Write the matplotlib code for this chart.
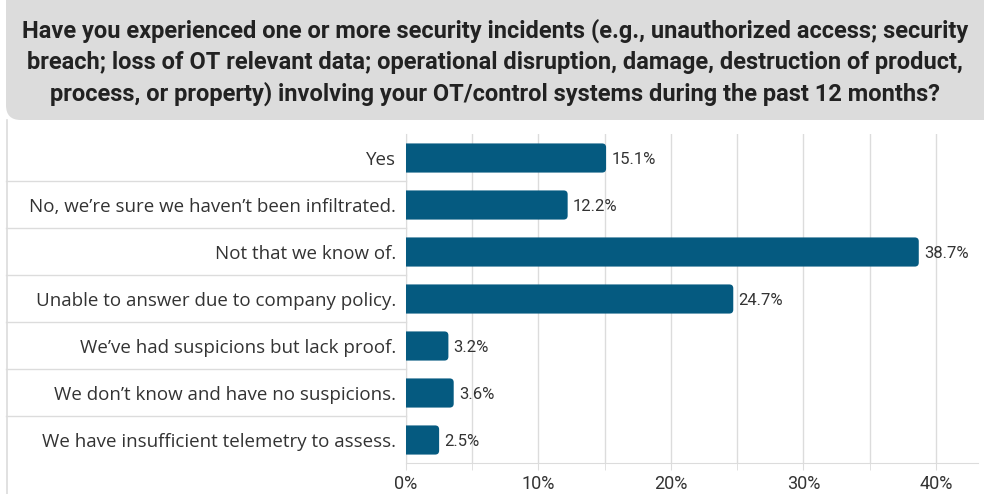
import matplotlib.pyplot as plt
from matplotlib.patches import FancyBboxPatch
from matplotlib.lines import Line2D
from matplotlib.transforms import blended_transform_factory
import numpy as np

title = ("Have you experienced one or more security incidents (e.g., unauthorized access; security\n"
         "breach; loss of OT relevant data; operational disruption, damage, destruction of product,\n"
         "process, or property) involving your OT/control systems during the past 12 months?")
categories = ["Yes",
              "No, we\u2019re sure we haven\u2019t been infiltrated.",
              "Not that we know of.",
              "Unable to answer due to company policy.",
              "We\u2019ve had suspicions but lack proof.",
              "We don\u2019t know and have no suspicions.",
              "We have insufficient telemetry to assess."]
values = [15.1, 12.2, 38.7, 24.7, 3.2, 3.6, 2.5]
xticks = [0, 10, 20, 30, 40]
xtick_labels = ["0%", "10%", "20%", "30%", "40%"]

bar_color = "#055a80"
text_color = "#333333"
grid_color = "#dcdcdc"
narrow = ["Roboto", "DejaVu Sans"]
label_font = ["Open Sans", "Noto Sans", "DejaVu Sans"]

W, H = 984, 494
fig = plt.figure(figsize=(W / 100, H / 100), dpi=100)
fig.patch.set_facecolor("white")

# title box
box = FancyBboxPatch((6 / W, (H - 120) / H), 1.02 - 6 / W, 140 / H,
                     boxstyle="round,pad=0,rounding_size=0.015",
                     transform=fig.transFigure, facecolor="#dcdcdc",
                     edgecolor="none", mutation_aspect=W / H, zorder=0)
fig.patches.append(box)
fig.text(495 / W, 1 - 62.5 / H, title, ha="center", va="center",
         fontsize=17, fontweight="bold", color="#222222",
         family=narrow, linespacing=1.42)

# left border line
fig.add_artist(Line2D([6.5 / W, 6.5 / W], [0, (H - 120) / H],
                      transform=fig.transFigure, color=grid_color, lw=1.2))

ax = fig.add_axes([406 / W, 1 - 463.5 / H, (978 - 406) / W, (463.5 - 134.5) / H])
n = len(categories)
y = np.arange(n)
ax.set_ylim(n - 0.5, -0.5)
ax.set_xlim(0, 43.17)

bh = 0.62
for yi, v in zip(y, values):
    p = FancyBboxPatch((-1, yi - bh / 2), v + 1, bh,
                       boxstyle="round,pad=0,rounding_size=0.3",
                       mutation_aspect=0.28, facecolor=bar_color,
                       edgecolor="none", zorder=3)
    ax.add_patch(p)
    ax.text(v + 0.4, yi + 0.03, f"{v:.1f}%", ha="left", va="center",
            fontsize=12, color=text_color, family=narrow, zorder=4)

ax.set_yticks(y)
ax.set_yticklabels(categories, fontsize=13.5, color=text_color, family=label_font)
ax.tick_params(axis="y", length=0, pad=7)

ax.set_xticks(xticks)
ax.set_xticklabels(xtick_labels, fontsize=13, color=text_color, family=narrow)
ax.set_xticks([5, 15, 25, 35], minor=True)
ax.tick_params(axis="x", which="both", length=5, color=grid_color, pad=3)
ax.grid(axis="x", which="both", color=grid_color, lw=1, zorder=0)
ax.set_axisbelow(True)

for s in ["top", "right"]:
    ax.spines[s].set_visible(False)
ax.spines["left"].set_color(grid_color)
ax.spines["bottom"].set_color(grid_color)

# category separators
tr = blended_transform_factory(fig.transFigure, ax.transData)
for yi in y[:-1]:
    ax.plot([6 / W, 406 / W], [yi + 0.5, yi + 0.5], transform=tr,
            color=grid_color, lw=1, clip_on=False)

fig.savefig("out.png", dpi=100)
